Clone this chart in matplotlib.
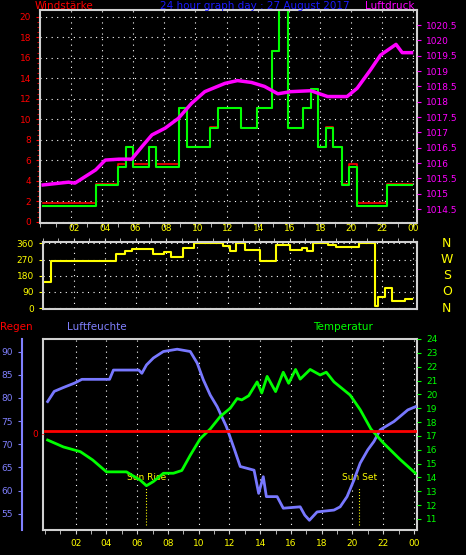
import matplotlib
matplotlib.use("Agg")
import matplotlib.pyplot as plt
import numpy as np

# ---- data ----
wind_t = [0.17, 3.58, 5.03, 5.5, 6.0, 7.0, 7.48, 8.97, 9.48, 10.95, 11.46, 12.95, 13.97, 14.9, 15.4, 15.93, 16.9, 17.42, 17.9, 18.4, 18.87, 19.4, 19.9, 20.36, 22.33, 23.9]
wind_v = [1.6, 3.6, 5.4, 7.3, 5.4, 7.3, 5.4, 11.1, 7.3, 9.2, 11.1, 9.2, 11.1, 16.7, 21.0, 9.2, 11.1, 13.0, 7.3, 9.2, 7.3, 3.6, 5.4, 1.6, 3.6, 3.6]
gust_v = [1.8, 3.7, 5.6, 7.3, 5.6, 7.3, 5.6, 11.1, 7.3, 9.3, 11.1, 9.2, 11.1, 16.7, 21.0, 9.2, 11.1, 13.0, 7.3, 9.3, 7.3, 3.7, 5.6, 1.8, 3.7, 3.7]
pres_t = [0.2, 1.83, 2.25, 3.58, 4.2, 5.08, 5.9, 6.56, 7.2, 8.05, 8.9, 9.75, 10.6, 11.9, 12.7, 13.6, 14.44, 15.3, 16.14, 17.42, 18.5, 19.75, 20.4, 21.26, 21.9, 22.9, 23.3, 23.9]
pres_v = [1015.29, 1015.38, 1015.35, 1015.78, 1016.1, 1016.13, 1016.13, 1016.54, 1016.92, 1017.14, 1017.46, 1017.95, 1018.33, 1018.6, 1018.69, 1018.63, 1018.5, 1018.26, 1018.33, 1018.36, 1018.17, 1018.17, 1018.44, 1019.04, 1019.52, 1019.87, 1019.6, 1019.6]
dir_t = [0.1, 0.54, 4.76, 5.3, 5.8, 7.1, 7.85, 8.3, 9.1, 9.8, 11.7, 12.1, 12.5, 13.1, 14.1, 15.1, 16.0, 16.8, 17.1, 17.5, 18.5, 19.0, 20.5, 21.5, 21.7, 22.2, 22.6, 23.5, 23.9]
dir_v = [144, 263, 300, 320, 330, 300, 310, 285, 335, 360, 345, 315, 360, 325, 260, 350, 325, 335, 315, 360, 350, 340, 360, 10, 60, 110, 40, 50, 50]
hum_t = [0.17, 0.6, 1.17, 1.93, 2.4, 4.2, 4.45, 6.1, 6.3, 6.6, 7.05, 7.7, 8.6, 9.45, 9.9, 10.3, 10.75, 11.2, 11.8, 12.3, 12.7, 13.6, 13.9, 14.2, 14.4, 15.1, 15.5, 16.6, 16.9, 17.2, 17.7, 18.8, 19.2, 19.65, 20.1, 20.5, 21.0, 21.4, 21.8, 22.7, 23.1, 23.6, 24.1]
hum_v = [79.2, 81.4, 82.2, 83.2, 84.0, 84.0, 86.0, 86.0, 85.3, 87.1, 88.6, 90.0, 90.5, 90.0, 87.5, 83.9, 80.6, 78.1, 73.8, 69.1, 65.2, 64.4, 59.4, 63.0, 58.7, 58.7, 56.2, 56.5, 54.7, 53.6, 55.4, 55.8, 56.5, 58.7, 62.3, 65.9, 68.8, 70.6, 73.1, 74.9, 76.0, 77.4, 78.1]
temp_t = [0.17, 1.2, 2.3, 3.1, 4.0, 5.3, 6.2, 6.6, 7.05, 7.7, 8.35, 8.9, 9.45, 10.1, 10.75, 11.4, 12.05, 12.5, 12.8, 13.25, 13.8, 14.1, 14.45, 15.0, 15.5, 15.85, 16.3, 16.6, 17.25, 17.9, 18.3, 18.8, 19.85, 20.5, 21.2, 22.0, 23.1, 24.1]
temp_v = [16.7, 16.2, 15.86, 15.26, 14.4, 14.4, 13.8, 13.4, 13.7, 14.3, 14.3, 14.5, 15.6, 16.8, 17.5, 18.4, 19.0, 19.7, 19.6, 19.9, 20.9, 20.1, 21.3, 20.2, 21.6, 20.8, 21.8, 21.1, 21.8, 21.4, 21.6, 20.9, 19.95, 18.9, 17.5, 16.5, 15.3, 14.3]
rain_t = [0.0, 24.1]
rain_v = [0, 0]
hour_ticks = [2, 4, 6, 8, 10, 12, 14, 16, 18, 20, 22, 24]
hour_labels = ["02", "04", "06", "08", "10", "12", "14", "16", "18", "20", "22", "00"]
sun_events = [(6.6, "Sun Rise"), (20.45, "Sun Set")]

W, H = 466, 555
fig = plt.figure(figsize=(W/100, H/100), dpi=100, facecolor="black")
plt.rcParams['font.family'] = ['DejaVu Sans']
FS = 6.5
SP = "#d0d0d0"

def style(ax):
    ax.set_facecolor("black")
    for s in ax.spines.values():
        s.set_color(SP); s.set_linewidth(1.5)
    ax.set_xticks(hour_ticks)
    ax.set_xticklabels(hour_labels, color="yellow", fontsize=FS)
    ax.set_xticks(np.arange(0, 24.5, 1), minor=True)
    ax.tick_params(axis="x", which="both", colors=SP, labelcolor="yellow", length=3, direction="out")
    ax.grid(True, color="white", linestyle=(0, (1, 4)), linewidth=0.8)

# top panel
ax1 = fig.add_axes([40/W, 1-223/H, 377/W, 213/H])
style(ax1)
ax1.set_xlim(0, 24.25)
ax1.tick_params(axis="x", which="both", labelbottom=False)
ax1.step(wind_t, gust_v, where="post", color="red", lw=1.2)
ax1.step(wind_t, wind_v, where="post", color="#00ff00", lw=1.5)
ax1.set_ylim(-0.1, 20.65)
ax1.set_yticks(range(0, 21, 2))
ax1.tick_params(axis="y", colors="red", labelsize=FS, length=3)
ax1.set_yticks(np.arange(0, 20.5, 0.5), minor=True)
ax1.tick_params(axis="y", which="minor", colors="red", length=2)
ax1b = ax1.twinx()
ax1b.plot(pres_t, pres_v, color="magenta", lw=2.5)
ax1b.set_ylim(1014.05, 1020.99)
ax1b.set_yticks(np.arange(1014.5, 1020.6, 0.5))
ax1b.set_yticklabels([f"{v:g}" for v in np.arange(1014.5, 1020.6, 0.5)])
ax1b.tick_params(axis="y", colors="magenta", labelsize=FS, length=3)
for s in ax1b.spines.values():
    s.set_visible(False)
fig.text(35/W, 1-6/H, "Windstärke", color="red", fontsize=7.5, va="center")
fig.text(255/W, 1-6/H, "24 hour graph day : 27 August 2017", color="#1a1aff", fontsize=7.5, ha="center", va="center")
fig.text(415/W, 1-6/H, "Luftdruck", color="magenta", fontsize=7.5, ha="right", va="center")

# wind direction
ax2 = fig.add_axes([43/W, 1-309/H, 374/W, 67.3/H])
style(ax2)
ax2.set_xlim(0, 24.25)
ax2.step(dir_t, dir_v, where="post", color="yellow", lw=1.5)
ax2.set_ylim(-5, 369)
ax2.set_yticks([0, 90, 180, 270, 360])
ax2.tick_params(axis="y", colors="yellow", labelsize=FS, length=3)
ax2.xaxis.tick_top()
ax2.tick_params(axis="x", which="both", labelcolor="yellow", labelsize=FS, top=True, bottom=False, labeltop=True, labelbottom=False)
for d, lab in zip([360, 270, 180, 90, 0], ["N", "W", "S", "O", "N"]):
    ax2.text(1.08, (d+5)/374, lab, transform=ax2.transAxes, color="yellow", fontsize=9, ha="center", va="center")

# bottom panel
ax3 = fig.add_axes([42.7/W, 1-530/H, 374.3/W, 191/H])
style(ax3)
ax3.set_xlim(-0.15, 24.2)
ax3.set_yticks([])
ax3.set_ylim(-1, 1)
ax3h = ax3.twinx()
ax3h.spines["left"].set_position(("axes", -0.056))
ax3h.spines["left"].set_visible(True)
ax3h.spines["left"].set_color("#8080ff"); ax3h.spines["left"].set_linewidth(1.5)
for s in ["right", "top", "bottom"]:
    ax3h.spines[s].set_visible(False)
ax3h.yaxis.set_ticks_position("left"); ax3h.yaxis.set_label_position("left")
ax3h.plot(hum_t, hum_v, color="#7878ff", lw=2)
ax3h.set_ylim(51.5, 92.7)
ax3h.set_yticks(range(55, 91, 5))
ax3h.tick_params(axis="y", colors="#8080ff", labelsize=FS, length=3)
ax3t = ax3.twinx()
for s in ax3t.spines.values():
    s.set_visible(False)
ax3t.plot(temp_t, temp_v, color="#00ff00", lw=2)
ax3t.set_ylim(10.2, 24.0)
ax3t.set_yticks(range(11, 25))
ax3t.tick_params(axis="y", colors="#00ff00", labelsize=FS, length=3)
ax3r = ax3.twinx()
for s in ax3r.spines.values():
    s.set_visible(False)
ax3r.set_ylim(-1.065, 1)
ax3r.plot(rain_t, rain_v, color="red", lw=2)
ax3r.set_yticks([])
fig.text(33/W, 1-434.3/H, "0 -", color="red", fontsize=FS, va="center")
for t, lab in sun_events:
    ax3.plot([t, t], [-0.95, -0.56], color="yellow", lw=0.8, ls=":")
    ax3.text(t, -0.5, lab, color="yellow", fontsize=FS, ha="center", va="bottom")
fig.text(0/W, 1-327/H, "Regen", color="red", fontsize=7.5, va="center")
fig.text(67/W, 1-327/H, "Luftfeuchte", color="#8080ff", fontsize=7.5, va="center")
fig.text(313/W, 1-327/H, "Temperatur", color="#00ff00", fontsize=7.5, va="center")

fig.savefig("out.png", dpi=100, facecolor="black")
